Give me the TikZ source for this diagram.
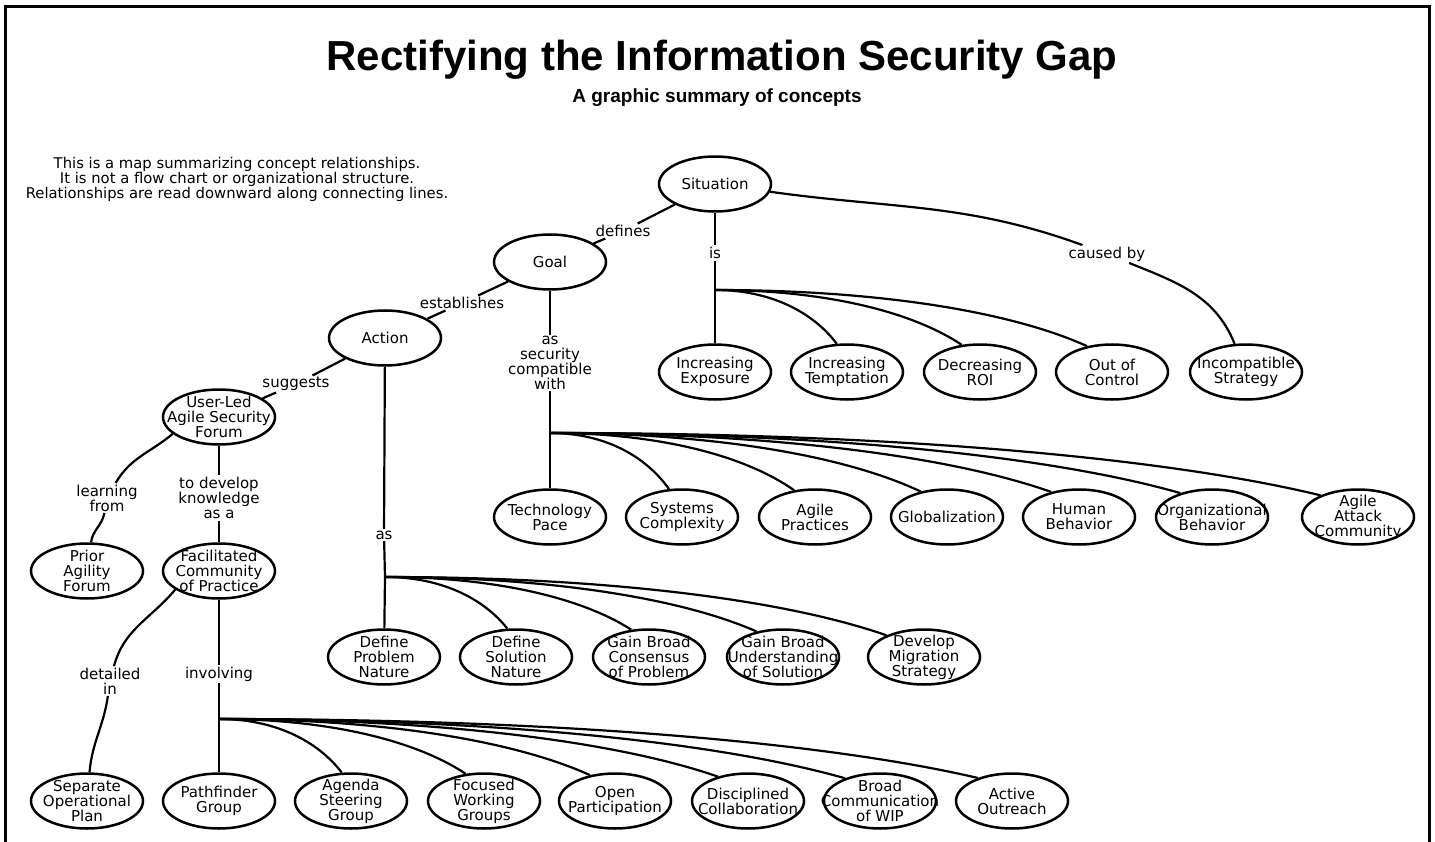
\documentclass[tikz,border=0pt]{standalone}
\usepackage{fontspec}
\setmainfont{DejaVu Sans}
\newfontfamily\arialfont{Liberation Sans}
\usetikzlibrary{shapes.geometric,calc}
% fan connector: junction #1 to node #2 at border angle #3
\newcommand{\fanedge}[3]{%
  \draw[conn] let \p1=(#1), \p2=(#2.#3) in
    (\p1) .. controls ({\x1+0.45*(\x2-\x1)},\y1) and ({\x2-0.2*(\x2-\x1)},{\y2+0.6*(\y1-\y2)}) .. (\p2);}
\begin{document}
\begin{tikzpicture}[x=1pt,y=-1pt,
  concept/.style={ellipse, draw, line width=2.5pt, minimum width=112pt, minimum height=55pt, inner sep=0pt},
  ctext/.style={font=\fontsize{15}{15}\selectfont, align=center, inner sep=0pt},
  link/.style={font=\fontsize{15}{15}\selectfont, align=center, inner sep=1.5pt},
  conn/.style={line width=2.2pt},
  frame/.style={line width=3pt},
]
\useasboundingbox (0,0) rectangle (1435,842);
\draw[frame] (5,842) -- (5,7) -- (1429,7) -- (1429,842);

\node[font=\arialfont\bfseries\fontsize{42}{42}\selectfont, anchor=base] (title) at (722,71) {Rectifying the Information Security Gap};
\node[font=\arialfont\bfseries\fontsize{19}{19}\selectfont, anchor=base] (subtitle) at (717,103) {A graphic summary of concepts};
\node[font=\fontsize{14.8}{15}\selectfont, align=center] (note) at (237,179) {This is a map summarizing concept relationships.\\It is not a flow chart or organizational structure.\\Relationships are read downward along connecting lines.};

% concepts
\node[concept, label={[ctext]center:Situation}] (sit) at (715,184) {};
\node[concept, label={[ctext]center:Goal}] (goal) at (550,262) {};
\node[concept, label={[ctext]center:Action}] (act) at (385,338) {};
\node[concept, label={[ctext]center:{User-Led\\Agile Security\\Forum}}] (ulf) at (219,417) {};
\node[concept, label={[ctext]center:{Prior\\Agility\\Forum}}] (paf) at (87,571) {};
\node[concept, label={[ctext]center:{Facilitated\\Community\\of Practice}}] (fcp) at (219,571) {};

\node[concept, label={[ctext]center:{Separate\\Operational\\Plan}}] (sop) at (87,801) {};
\node[concept, label={[ctext]center:{Pathfinder\\Group}}] (pfg) at (219,801) {};
\node[concept, label={[ctext]center:{Agenda\\Steering\\Group}}] (asg) at (351,801) {};
\node[concept, label={[ctext]center:{Focused\\Working\\Groups}}] (fwg) at (484,801) {};
\node[concept, label={[ctext]center:{Open\\Participation}}] (opp) at (615,801) {};
\node[concept, label={[ctext]center:{Disciplined\\Collaboration}}] (dco) at (748,801) {};
\node[concept, label={[ctext]center:{Broad\\Communication\\of WIP}}] (bcw) at (880,801) {};
\node[concept, label={[ctext]center:{Active\\Outreach}}] (aco) at (1012,801) {};

\node[concept, label={[ctext]center:{Define\\Problem\\Nature}}] (dpn) at (384,657) {};
\node[concept, label={[ctext]center:{Define\\Solution\\Nature}}] (dsn) at (516,657) {};
\node[concept, label={[ctext]center:{Gain Broad\\Consensus\\of Problem}}] (gbc) at (649,657) {};
\node[concept, label={[ctext]center:{Gain Broad\\Understanding\\of Solution}}] (gbu) at (783,657) {};
\node[concept, label={[ctext]center:{Develop\\Migration\\Strategy}}] (dms) at (924,657) {};

\node[concept, label={[ctext]center:{Technology\\Pace}}] (tpa) at (550,517) {};
\node[concept, label={[ctext]center:{Systems\\Complexity}}] (scx) at (682,517) {};
\node[concept, label={[ctext]center:{Agile\\Practices}}] (apr) at (815,517) {};
\node[concept, label={[ctext]center:{Globalization}}] (glo) at (947,517) {};
\node[concept, label={[ctext]center:{Human\\Behavior}}] (hbe) at (1079,517) {};
\node[concept, label={[ctext]center:{Organizational\\Behavior}}] (obe) at (1212,517) {};
\node[concept, label={[ctext]center:{Agile\\Attack\\Community}}] (aac) at (1358,517) {};

\node[concept, label={[ctext]center:{Increasing\\Exposure}}] (iex) at (715,372) {};
\node[concept, label={[ctext]center:{Increasing\\Temptation}}] (ite) at (847,372) {};
\node[concept, label={[ctext]center:{Decreasing\\ROI}}] (dro) at (980,372) {};
\node[concept, label={[ctext]center:{Out of\\Control}}] (ooc) at (1112,372) {};
\node[concept, label={[ctext]center:{Incompatible\\Strategy}}] (ics) at (1246,372) {};

% linking phrases
\node[link] (defines) at (623,231) {defines};
\node[link] (establishes) at (462,303) {establishes};
\node[link] (suggests) at (296,384) {suggests};
\node[link] (is) at (715,253) {is};
\node[link] (causedby) at (1107,254) {caused by};
\node[link] (ascw) at (550,363) {as\\security\\compatible\\with};
\node[link] (as) at (384,535) {as};
\node[link] (learning) at (107,498) {learning\\from};
\node[link] (todevelop) at (219,498) {to develop\\knowledge\\as a};
\node[link] (detailed) at (110,681) {detailed\\in};
\node[link] (involving) at (219,674) {involving};

% junctions
\coordinate (jis) at (715,290);
\coordinate (jgoal) at (550,433);
\coordinate (jact) at (385,577);
\coordinate (jinv) at (219,719);

% connectors
\draw[conn] (sit) -- (defines) -- (goal);
\draw[conn] (goal) -- (establishes) -- (act);
\draw[conn] (act) -- (suggests) -- (ulf);
\draw[conn] (sit.-8) to[out=-8,in=160] (causedby) to[out=-22,in=112] (ics);
\draw[conn] (ulf.-160) to[out=-140,in=60] (learning) to[out=-100,in=82] (paf);
\draw[conn] (ulf) -- (todevelop) -- (fcp);
\draw[conn] (fcp.-157) to[out=-130,in=75] (detailed) to[out=-98,in=85] (sop);

\draw[conn] (sit) -- (is) -- (jis);
\draw[conn] (jis) -- (iex);
\fanedge{jis}{ite}{110}
\fanedge{jis}{dro}{124}
\fanedge{jis}{ooc}{134}

\draw[conn] (goal) -- (ascw) -- (jgoal);
\draw[conn] (jgoal) -- (tpa);
\fanedge{jgoal}{scx}{115}
\fanedge{jgoal}{apr}{128}
\fanedge{jgoal}{glo}{136}
\fanedge{jgoal}{hbe}{138}
\fanedge{jgoal}{obe}{143}
\fanedge{jgoal}{aac}{150}

\draw[conn] (act) -- (as) -- (jact);
\draw[conn] (jact) -- (dpn);
\fanedge{jact}{dsn}{107}
\fanedge{jact}{gbc}{123}
\fanedge{jact}{gbu}{136}
\fanedge{jact}{dms}{150}

\draw[conn] (fcp) -- (involving) -- (jinv);
\draw[conn] (jinv) -- (pfg);
\fanedge{jinv}{asg}{108}
\fanedge{jinv}{fwg}{124}
\fanedge{jinv}{opp}{134}
\fanedge{jinv}{dco}{141}
\fanedge{jinv}{bcw}{147}
\fanedge{jinv}{aco}{146}
\end{tikzpicture}
\end{document}
